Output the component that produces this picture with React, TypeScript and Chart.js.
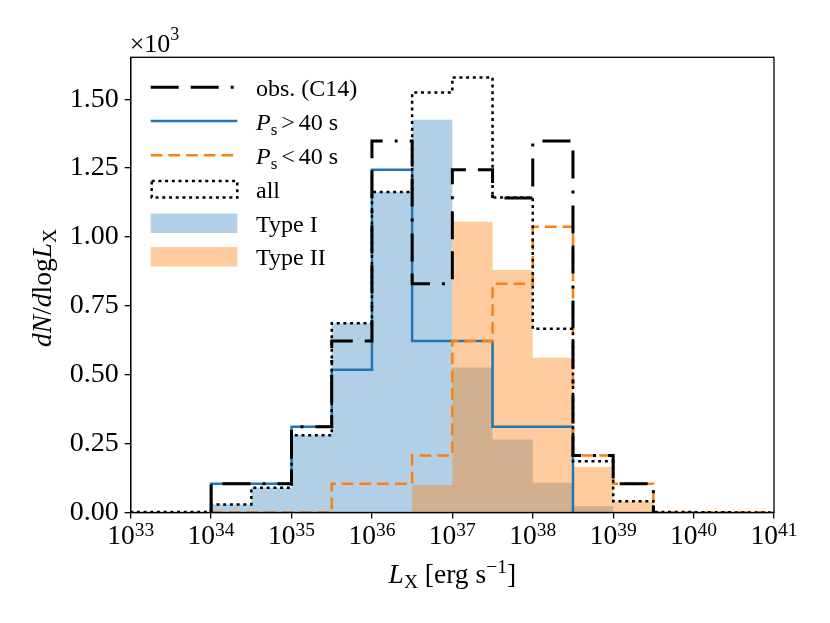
import React, { useEffect, useRef } from "react";
import { Chart, registerables } from "chart.js";

Chart.register(...registerables);

// bin edges in log10(L_X / erg s^-1), 0.5 dex bins
const binEdges = [33, 33.5, 34, 34.5, 35, 35.5, 36, 36.5, 37, 37.5, 38, 38.5, 39, 39.5, 40, 40.5, 41];

// dN/dlogL_X in units of 10^3, one value per bin (null = bin not in that histogram)
const obsC14 = [null, null, 0.104, 0.104, 0.311, 0.622, 1.348, 0.83, 1.244, 1.141, 1.348, 0.207, 0.104, null, null, null];
const psLong = [null, null, 0.104, 0.104, 0.311, 0.518, 1.244, 0.622, 0.622, 0.311, 0.311, null, null, null, null, null];
const psShort = [null, null, 0, 0, 0, 0.104, 0.104, 0.207, 0.622, 0.83, 1.037, 0.207, 0.104, 0, 0, 0];
const allModel = [0.002, 0.002, 0.029, 0.09, 0.28, 0.687, 1.163, 1.524, 1.579, 1.143, 0.667, 0.186, 0.041, 0.002, 0.001, 0];
const typeI = [0, 0, 0.029, 0.09, 0.28, 0.687, 1.163, 1.425, 0.526, 0.265, 0.108, 0.023, 0, 0, 0, 0];
const typeII = [0, 0, 0, 0, 0, 0, 0, 0.1, 1.055, 0.88, 0.562, 0.165, 0.041, 0, 0, 0];

const xExponents = [33, 34, 35, 36, 37, 38, 39, 40, 41];
const yTicks = [0, 0.25, 0.5, 0.75, 1.0, 1.25, 1.5];

const C0 = "#1f77b4";
const C1 = "#ff7f0e";
const SERIF = "'Liberation Serif', 'Times New Roman', serif";

// step outline like matplotlib histtype="step"
function stepOutline(vals: (number | null)[]) {
  const idx = vals.map((v, i) => (v === null ? -1 : i)).filter((i) => i >= 0);
  const a = idx[0];
  const b = idx[idx.length - 1] + 1;
  const pts = [{ x: binEdges[a], y: 0 }];
  for (let i = a; i < b; i++) pts.push({ x: binEdges[i], y: vals[i] as number });
  pts.push({ x: binEdges[b], y: 0 });
  return pts;
}

type Seg = { t: string; font: string; dy?: number; pad?: number };

function drawRich(ctx: CanvasRenderingContext2D, segs: Seg[], x: number, y: number, align: "left" | "center") {
  let w = 0;
  segs.forEach((s) => {
    ctx.font = s.font;
    w += ctx.measureText(s.t).width + (s.pad || 0);
  });
  let cx = align === "center" ? x - w / 2 : x;
  ctx.textAlign = "left";
  ctx.textBaseline = "alphabetic";
  segs.forEach((s) => {
    cx += s.pad || 0;
    ctx.font = s.font;
    ctx.fillText(s.t, cx, y + (s.dy || 0));
    cx += ctx.measureText(s.t).width;
  });
}

const it = (px: number) => `italic ${px}px ${SERIF}`;
const rm = (px: number) => `${px}px ${SERIF}`;

const overlay = {
  id: "overlay",
  afterDraw(chart: any) {
    const ctx: CanvasRenderingContext2D = chart.ctx;
    const { left, right, top, bottom } = chart.chartArea;
    ctx.save();
    ctx.fillStyle = "#000";
    ctx.strokeStyle = "#000";

    // frame
    ctx.lineWidth = 1.3;
    ctx.setLineDash([]);
    ctx.strokeRect(left, top, right - left, bottom - top);

    // x tick labels 10^n
    const xs = chart.scales.x;
    xs.ticks.forEach((t: any) => {
      const px = xs.getPixelForValue(t.value);
      drawRich(ctx, [{ t: "10", font: rm(27.5) }, { t: String(t.value), font: rm(19.5), dy: -8.8 }], px, bottom + 31.8, "center");
    });

    // offset text
    drawRich(ctx, [{ t: "\u00d710", font: rm(26) }, { t: "3", font: rm(18), dy: -11.5 }], left - 1, 51.5, "left");

    // x title
    drawRich(
      ctx,
      [
        { t: "L", font: it(27.5) },
        { t: "X", font: rm(19.5), dy: 5 },
        { t: " [erg s", font: rm(27.5) },
        { t: "\u22121", font: rm(19.5), dy: -10 },
        { t: "]", font: rm(27.5) },
      ],
      (left + right) / 2,
      583,
      "center"
    );

    // y title
    ctx.save();
    ctx.translate(50.5, (top + bottom) / 2 + 3);
    ctx.rotate(-Math.PI / 2);
    drawRich(
      ctx,
      [
        { t: "dN", font: it(27.5) },
        { t: "/", font: rm(27.5) },
        { t: "d", font: it(27.5) },
        { t: "log", font: rm(27.5) },
        { t: "L", font: it(27.5) },
        { t: "X", font: rm(19.5), dy: 5 },
      ],
      0,
      0,
      "center"
    );
    ctx.restore();

    // legend
    const hx0 = 150.7;
    const hx1 = 237.3;
    const tx = 256;
    const rows = [87.3, 121, 155.3, 189.3, 223.3, 256.8];
    const line = (y: number, color: string, w: number, dash: number[]) => {
      ctx.strokeStyle = color;
      ctx.lineWidth = w;
      ctx.setLineDash(dash);
      ctx.beginPath();
      ctx.moveTo(hx0, y);
      ctx.lineTo(hx1, y);
      ctx.stroke();
    };
    line(rows[0], "#000", 3, [28, 12, 28, 12, 3, 12]);
    line(rows[1], C0, 2.5, []);
    line(rows[2], C1, 2.5, [11.7, 6]);
    ctx.strokeStyle = "#000";
    ctx.lineWidth = 2.5;
    ctx.setLineDash([3, 3.7]);
    ctx.strokeRect(hx0 + 1, rows[3] - 8.3, hx1 - hx0 - 1, 16.6);
    ctx.setLineDash([]);
    ctx.fillStyle = "rgba(31,119,180,0.35)";
    ctx.fillRect(hx0, rows[4] - 9.7, hx1 - hx0, 19.4);
    ctx.fillStyle = "rgba(255,127,14,0.4)";
    ctx.fillRect(hx0, rows[5] - 9.7, hx1 - hx0, 19.4);

    ctx.fillStyle = "#000";
    const base = 8.5;
    drawRich(ctx, [{ t: "obs. (C14)", font: rm(24) }], tx, rows[0] + base, "left");
    drawRich(
      ctx,
      [
        { t: "P", font: it(24) },
        { t: "s", font: rm(17), dy: 5 },
        { t: ">", font: rm(24), pad: 4 },
        { t: "40 s", font: rm(24), pad: 4 },
      ],
      tx,
      rows[1] + base,
      "left"
    );
    drawRich(
      ctx,
      [
        { t: "P", font: it(24) },
        { t: "s", font: rm(17), dy: 5 },
        { t: "<", font: rm(24), pad: 4 },
        { t: "40 s", font: rm(24), pad: 4 },
      ],
      tx,
      rows[2] + base,
      "left"
    );
    drawRich(ctx, [{ t: "all", font: rm(24) }], tx, rows[3] + base, "left");
    drawRich(ctx, [{ t: "Type I", font: rm(24) }], tx, rows[4] + base, "left");
    drawRich(ctx, [{ t: "Type II", font: rm(24) }], tx, rows[5] + base, "left");

    ctx.restore();
  },
};

export default function App() {
  const canvasRef = useRef<HTMLCanvasElement | null>(null);

  useEffect(() => {
    if (!canvasRef.current) return;

    const axisGrid = {
      drawOnChartArea: false,
      drawTicks: true,
      tickLength: 6,
      color: "#000",
      lineWidth: 1.3,
    };

    const chart = new Chart(canvasRef.current, {
      type: "line",
      data: {
        datasets: [
          {
            label: "all",
            data: stepOutline(allModel),
            stepped: "before",
            borderColor: "#000",
            borderWidth: 2.5,
            borderDash: [3, 3.7],
            fill: false,
            order: 1,
          },
          {
            label: "obs. (C14)",
            data: stepOutline(obsC14),
            stepped: "before",
            borderColor: "#000",
            borderWidth: 3,
            borderDash: [28, 12, 28, 12, 3, 12],
            fill: false,
            order: 2,
          },
          {
            label: "Ps < 40 s",
            data: stepOutline(psShort),
            stepped: "before",
            borderColor: C1,
            borderWidth: 2.5,
            borderDash: [11.7, 6],
            fill: false,
            order: 3,
          },
          {
            label: "Ps > 40 s",
            data: stepOutline(psLong),
            stepped: "before",
            borderColor: C0,
            borderWidth: 2.5,
            fill: false,
            order: 4,
          },
          {
            label: "Type II",
            data: stepOutline(typeII),
            stepped: "before",
            borderWidth: 0,
            borderColor: "rgba(0,0,0,0)",
            backgroundColor: "rgba(255,127,14,0.4)",
            fill: "origin",
            order: 5,
          },
          {
            label: "Type I",
            data: stepOutline(typeI),
            stepped: "before",
            borderWidth: 0,
            borderColor: "rgba(0,0,0,0)",
            backgroundColor: "rgba(31,119,180,0.35)",
            fill: "origin",
            order: 6,
          },
        ],
      },
      options: {
        animation: false,
        responsive: true,
        maintainAspectRatio: false,
        layout: { padding: { top: 57.3, right: 56, left: 0, bottom: 0 } },
        elements: { point: { radius: 0 }, line: { tension: 0 } },
        plugins: {
          legend: { display: false },
          tooltip: { enabled: false },
        },
        scales: {
          x: {
            type: "linear",
            min: 33,
            max: 41,
            afterFit: (s: any) => {
              s.height = 110.5;
            },
            afterBuildTicks: (s: any) => {
              s.ticks = xExponents.map((v) => ({ value: v }));
            },
            ticks: { display: false },
            grid: axisGrid,
            border: { color: "#000", width: 1.3 },
          },
          y: {
            type: "linear",
            min: 0,
            max: 1.652,
            afterFit: (s: any) => {
              s.width = 130.7;
            },
            afterBuildTicks: (s: any) => {
              s.ticks = yTicks.map((v) => ({ value: v }));
            },
            ticks: {
              callback: (v: any) => Number(v).toFixed(2),
              color: "#000",
              font: { family: SERIF, size: 28 },
              padding: 6,
            },
            grid: axisGrid,
            border: { color: "#000", width: 1.3 },
          },
        },
      },
      plugins: [overlay],
    } as any);

    return () => chart.destroy();
  }, []);

  return (
    <div style={{ position: "absolute", left: 0, top: 0, width: 830, height: 623, background: "#fff" }}>
      <canvas ref={canvasRef} />
    </div>
  );
}
